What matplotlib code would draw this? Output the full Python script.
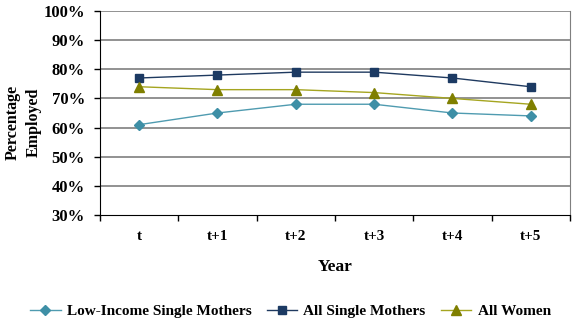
import matplotlib.pyplot as plt

plt.rcParams['font.family'] = ['Liberation Serif', 'DejaVu Serif']
plt.rcParams['font.weight'] = 'bold'

years = ['t', 't+1', 't+2', 't+3', 't+4', 't+5']
low_income = [61, 65, 68, 68, 65, 64]
all_single = [77, 78, 79, 79, 77, 74]
all_women = [74, 73, 73, 72, 70, 68]
y_ticks = [30, 40, 50, 60, 70, 80, 90, 100]

fig = plt.figure(figsize=(5.75, 3.21), dpi=100)
ax = fig.add_axes([0.174, 0.330, 0.817, 0.636])

x = range(len(years))
ax.plot(x, low_income, color='#4F9BB0', lw=1, marker='D', ms=5.5,
        mfc='#3E8FA6', mec='#3E8FA6', label='Low-Income Single Mothers')
ax.plot(x, all_single, color='#1F3A60', lw=1, marker='s', ms=6,
        mfc='#1C3A63', mec='#1C3A63', label='All Single Mothers')
ax.plot(x, all_women, color='#A5A520', lw=1, marker='^', ms=7,
        mfc='#7F7F00', mec='#7F7F00', label='All Women')

ax.set_xlim(-0.5, len(years) - 0.5)
ax.set_ylim(30, 100)
ax.set_yticks(y_ticks)
ax.set_yticklabels([f'{v}%' for v in y_ticks], fontsize=12, fontweight='bold')
ax.set_xticks(list(x))
ax.set_xticklabels(years, fontsize=11, fontweight='bold')
ax.set_xticks([i - 0.5 for i in range(len(years) + 1)], minor=True)
ax.tick_params(axis='x', which='major', length=0, pad=11)
ax.tick_params(axis='x', which='minor', length=4, width=1, direction='out')
ax.tick_params(axis='y', length=4, width=1, pad=7)

for v in y_ticks[1:]:
    ax.axhline(v, color='#7F7F7F', lw=1.2, zorder=0)
ax.spines['top'].set_visible(False)
ax.spines['right'].set_color('#7F7F7F')
ax.spines['left'].set_color('black')
ax.spines['bottom'].set_color('black')

ax.set_xlabel('Year', fontsize=12.5, fontweight='bold', labelpad=11)
fig.text(0.040, 0.62, 'Percentage\nEmployed', rotation=90, ha='center', va='center',
         fontsize=11.5, fontweight='bold', linespacing=1.4)

fig.legend(loc='lower center', ncol=3, frameon=False,
           bbox_to_anchor=(0.505, -0.035), handlelength=2.0, columnspacing=1.0,
           handletextpad=0.4, prop={'weight': 'bold', 'size': 11})

fig.savefig('out.png', dpi=100)
